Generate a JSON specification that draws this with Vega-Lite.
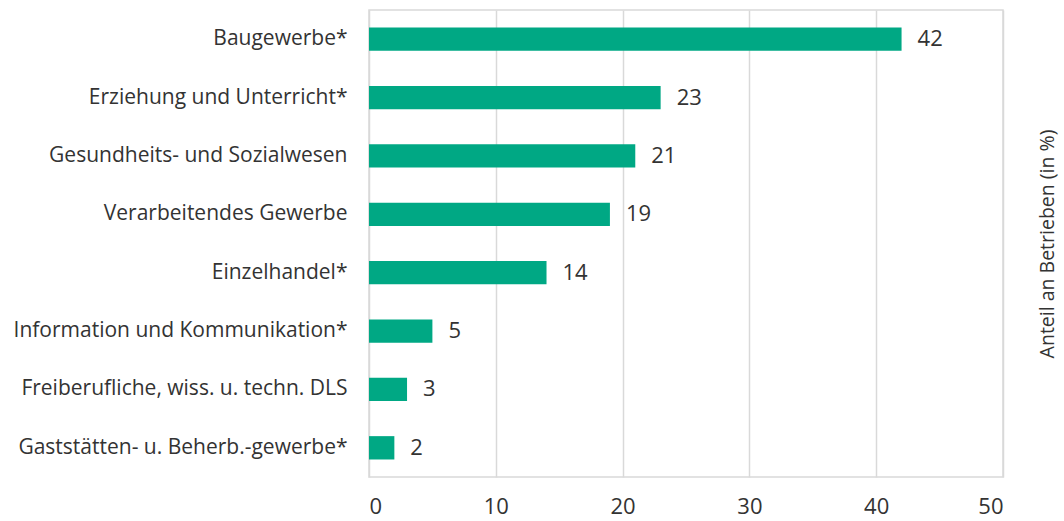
{
  "$schema": "https://vega.github.io/schema/vega-lite/v6.json",
  "width": 634,
  "height": 467,
  "autosize": {"type": "none"},
  "padding": {"left": 369, "top": 10, "right": 61, "bottom": 44},
  "background": "white",
  "config": {
    "font": "Open Sans",
    "view": {"stroke": "#d9d9d9", "strokeWidth": 1.5}
  },
  "data": {
    "values": [
      {"cat": "Baugewerbe*", "v": 42},
      {"cat": "Erziehung und Unterricht*", "v": 23},
      {"cat": "Gesundheits- und Sozialwesen", "v": 21},
      {"cat": "Verarbeitendes Gewerbe", "v": 19},
      {"cat": "Einzelhandel*", "v": 14},
      {"cat": "Information und Kommunikation*", "v": 5},
      {"cat": "Freiberufliche, wiss. u. techn. DLS", "v": 3},
      {"cat": "Gaststätten- u. Beherb.-gewerbe*", "v": 2}
    ]
  },
  "encoding": {
    "y": {
      "field": "cat",
      "type": "nominal",
      "sort": null,
      "scale": {"paddingInner": 0.6, "paddingOuter": 0.3}
    },
    "x": {
      "field": "v",
      "type": "quantitative",
      "scale": {"domain": [0, 50]}
    }
  },
  "layer": [
    {
      "mark": {"type": "bar", "color": "#00a884"},
      "encoding": {
        "y": {
          "field": "cat", "type": "nominal", "sort": null,
          "axis": {"title": null, "domain": false, "ticks": false, "labelPadding": 22, "labelFontSize": 21, "labelColor": "#333333", "labelLimit": 400}
        },
        "x": {
          "field": "v", "type": "quantitative",
          "axis": {"title": null, "values": [0, 10, 20, 30, 40, 50], "domain": false, "ticks": false, "labelPadding": 19, "labelFontSize": 22, "labelColor": "#333333", "gridColor": "#d9d9d9", "gridWidth": 1.5}
        }
      }
    },
    {
      "mark": {"type": "text", "align": "left", "baseline": "middle", "dx": 16, "fontSize": 22, "color": "#333333"},
      "encoding": {
        "text": {"field": "v", "type": "quantitative"},
        "y": {
          "field": "cat", "type": "nominal", "sort": null,
          "axis": {"orient": "right", "labels": false, "ticks": false, "domain": false, "grid": false, "title": "Anteil an Betrieben  (in %)", "titleAngle": -90, "titleFontSize": 19.5, "titleFontWeight": "normal", "titleColor": "#333333", "titlePadding": 54}
        }
      }
    }
  ],
  "resolve": {"axis": {"y": "independent"}}
}
